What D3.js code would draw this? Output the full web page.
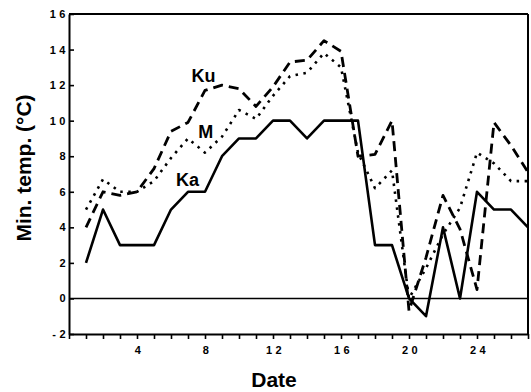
<!DOCTYPE html>
<html>
<head>
<meta charset="utf-8">
<script src="https://cdn.jsdelivr.net/npm/d3@7"></script>
<style>
  html, body { margin: 0; padding: 0; background: #fff; }
  svg { display: block; }
  .tick text { font-family: "Liberation Sans", Arial, sans-serif; font-weight: bold; font-size: 11px; letter-spacing: 3.5px; }
</style>
</head>
<body>
<div id="chart"></div>
<script>
// days of the month
const dates = [1, 2, 3, 4, 5, 6, 7, 8, 9, 10, 11, 12, 13, 14, 15, 16, 17, 18, 19, 20, 21, 22, 23, 24, 25, 26, 27];
// minimum temperature (°C) per site
const ka = [2, 5, 3, 3, 3, 5, 6, 6, 8, 9, 9, 10, 10, 9, 10, 10, 10, 3, 3, 0, -1, 4, 0, 6, 5, 5, 4];
const ku = [4, 6, 5.8, 6, 7.3, 9.4, 9.9, 11.7, 12, 11.8, 10.8, 11.9, 13.3, 13.4, 14.5, 13.9, 8, 8.1, 10, -0.7, 2.3, 5.8, 3.9, 0.5, 9.9, 8.6, 7.1];
const mm = [5, 6.7, 6, 6, 6.6, 7.9, 9, 8.2, 9.1, 10.6, 10.1, 11.4, 12.5, 12.7, 13.8, 13, 8.2, 6.2, 7.2, 0, 1.7, 3.6, 5.1, 8.2, 7.6, 6.6, 6.6];

const xTicks = [0, 1, 2, 3, 4, 5, 6, 7, 8, 9, 10, 11, 12, 13, 14, 15, 16, 17, 18, 19, 20, 21, 22, 23, 24, 25, 26, 27];
const xLabels = [4, 8, 12, 16, 20, 24];
const yTicks = [-2, 0, 2, 4, 6, 8, 10, 12, 14, 16];

const width = 531, height = 392;
const margin = { top: 14, right: 3, bottom: 58, left: 69 };

const svg = d3.select("#chart").append("svg")
  .attr("width", width)
  .attr("height", height);

const x = d3.scaleLinear()
  .domain([0, 27])
  .range([margin.left, width - margin.right]);

const y = d3.scaleLinear()
  .domain([-2, 16])
  .range([height - margin.bottom, margin.top]);

// bottom axis: a tick every day, labels every 4 days
const xAxis = svg.append("g")
  .attr("transform", `translate(0,${y(-2)})`)
  .call(d3.axisBottom(x)
    .tickValues(xTicks)
    .tickSizeInner(5)
    .tickSizeOuter(0)
    .tickPadding(7)
    .tickFormat(d => xLabels.includes(d) ? String(d) : ""));
xAxis.select(".domain").attr("stroke-width", 2);
xAxis.selectAll(".tick line").attr("stroke-width", 1.6);
xAxis.selectAll(".tick text").attr("dx", "2px");

// left axis: ticks point into the plot
const yAxis = svg.append("g")
  .attr("transform", `translate(${x(0)},0)`)
  .call(d3.axisLeft(y)
    .tickValues(yTicks)
    .tickSizeInner(-5)
    .tickSizeOuter(0)
    .tickPadding(0)
    .tickFormat(d => String(d)));
yAxis.select(".domain").attr("stroke-width", 2);
yAxis.selectAll(".tick line").attr("stroke-width", 1.6);

// frame top and right
svg.append("line")
  .attr("x1", x(0)).attr("x2", x(27))
  .attr("y1", y(16)).attr("y2", y(16))
  .attr("stroke", "#000").attr("stroke-width", 2);
svg.append("line")
  .attr("x1", x(27)).attr("x2", x(27))
  .attr("y1", y(16)).attr("y2", y(-2))
  .attr("stroke", "#000").attr("stroke-width", 2);

// zero line
svg.append("line")
  .attr("x1", x(0)).attr("x2", x(27))
  .attr("y1", y(0)).attr("y2", y(0))
  .attr("stroke", "#000").attr("stroke-width", 1.4);

const line = d3.line()
  .x(d => x(d[0]))
  .y(d => y(d[1]));

const series = [
  { name: "Ka", values: ka, dash: null, width: 2.6 },
  { name: "Ku", values: ku, dash: "10,6", width: 2.8 },
  { name: "M", values: mm, dash: "2.5,5.5", width: 2.6 }
];

svg.append("g").selectAll("path")
  .data(series)
  .join("path")
    .attr("d", s => line(dates.map((d, i) => [d, s.values[i]])))
    .attr("fill", "none")
    .attr("stroke", "#000")
    .attr("stroke-width", s => s.width)
    .attr("stroke-linejoin", "round")
    .attr("stroke-dasharray", s => s.dash);

// series labels
const labelFont = "'Liberation Sans', Arial, sans-serif";
const seriesLabels = [
  { text: "Ku", at: [7.2, 12.2] },
  { text: "M", at: [7.6, 9.0] },
  { text: "Ka", at: [6.3, 6.3] }
];
svg.append("g").selectAll("text")
  .data(seriesLabels)
  .join("text")
    .attr("x", d => x(d.at[0]))
    .attr("y", d => y(d.at[1]))
    .attr("font-family", labelFont)
    .attr("font-weight", "bold")
    .attr("font-size", 18)
    .text(d => d.text);

// axis titles
svg.append("text")
  .attr("transform", `translate(31,168) rotate(-90)`)
  .attr("text-anchor", "middle")
  .attr("font-family", labelFont)
  .attr("font-weight", "bold")
  .attr("font-size", 21)
  .text("Min. temp. (°C)");

svg.append("text")
  .attr("x", 274)
  .attr("y", 387)
  .attr("text-anchor", "middle")
  .attr("font-family", labelFont)
  .attr("font-weight", "bold")
  .attr("font-size", 21)
  .text("Date");
</script>
</body>
</html>
